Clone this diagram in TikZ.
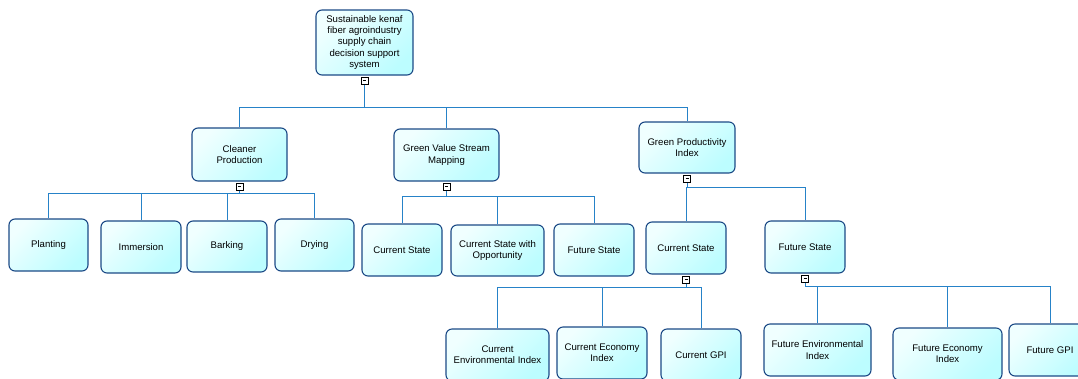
\documentclass[tikz,border=0pt]{standalone}
\usepackage{fontspec}
\setsansfont{Liberation Sans}
\definecolor{boxline}{RGB}{28,74,134}
\definecolor{linkline}{RGB}{38,130,200}
\definecolor{boxtop}{RGB}{240,255,255}
\definecolor{boxbot}{RGB}{188,253,255}
\begin{document}
\begin{tikzpicture}[x=1pt,y=-1pt,
    item/.style ={rounded corners=6pt, draw=boxline, line width=1.1pt,
      top color=boxtop, bottom color=boxbot, shading angle=45,
      align=center, inner sep=1pt,
      font=\sffamily\fontsize{9.6}{11.3}\selectfont},
    fold/.style ={draw=black, fill=white, line width=0.7pt, minimum size=7pt,
      inner sep=0pt, below=1.5pt,
      path picture={\draw[line width=0.9pt] ([xshift=2pt]path picture bounding box.west)
        -- ([xshift=-2pt]path picture bounding box.east);}},
    link/.style ={draw=linkline, line width=0.9pt}]
   \clip (0,0) rectangle (1078,378);
   \node[item, minimum width=97pt, minimum height=65pt] (root) at (364.5,42.5)
     {Sustainable kenaf\\fiber agroindustry\\supply chain\\decision support\\system};
   \node[item, minimum width=95pt, minimum height=53pt] (cp) at (239.5,154.5) {Cleaner\\Production};
   \node[item, minimum width=105pt, minimum height=52pt] (gvsm) at (446.5,155) {Green Value Stream\\Mapping};
   \node[item, minimum width=96pt, minimum height=51pt] (gpi) at (687,147.5) {Green Productivity\\Index};
   \node[item, minimum width=79pt, minimum height=52pt] (plant) at (48.5,245) {Planting};
   \node[item, minimum width=80pt, minimum height=52pt] (immer) at (141,247) {Immersion};
   \node[item, minimum width=80pt, minimum height=51pt] (bark) at (227,246.5) {Barking};
   \node[item, minimum width=79pt, minimum height=52pt] (dry) at (314.5,245) {Drying};
   \node[item, minimum width=80pt, minimum height=52pt] (gvcs) at (402,250) {Current State};
   \node[item, minimum width=93pt, minimum height=51pt] (gvcso) at (497.5,250.5) {Current State with\\Opportunity};
   \node[item, minimum width=80pt, minimum height=52pt] (gvfs) at (594,250) {Future State};
   \node[item, minimum width=80pt, minimum height=52pt] (gpcs) at (686,248) {Current State};
   \node[item, minimum width=80pt, minimum height=52pt] (gpfs) at (805,247) {Future State};
   \node[item, minimum width=103pt, minimum height=52pt] (cenv) at (497.5,355) {Current\\Environmental Index};
   \node[item, minimum width=90pt, minimum height=52pt] (cecon) at (602,353) {Current Economy\\Index};
   \node[item, minimum width=80pt, minimum height=52pt] (cgpi) at (701,355) {Current GPI};
   \node[item, minimum width=107pt, minimum height=52pt] (fenv) at (817.5,350) {Future Environmental\\Index};
   \node[item, minimum width=109pt, minimum height=52pt] (fecon) at (947.5,354) {Future Economy\\Index};
   \node[item, minimum width=82pt, minimum height=52pt] (fgpi) at (1050,350) {Future GPI};
   \node[fold] (rootm) at (root.south) {};
   \node[fold] (cpm) at (cp.south) {};
   \node[fold] (gvsmm) at (gvsm.south) {};
   \node[fold] (gpim) at (gpi.south) {};
   \node[fold] (gpcsm) at (gpcs.south) {};
   \node[fold] (gpfsm) at (gpfs.south) {};
   \coordinate (rootbus) at (rootm.south |- 0,107);
   \coordinate (cpbus) at (cpm.south |- 0,193);
   \coordinate (gvsmbus) at (gvsmm.south |- 0,196);
   \coordinate (gpibus) at (gpim.south |- 0,187);
   \coordinate (gpcsbus) at (gpcsm.south |- 0,287);
   \coordinate (gpfsbus) at (gpfsm.south |- 0,286);
   \draw[link] (rootm) -- (rootbus) -| (cp);
   \draw[link] (rootbus) -| (gvsm);
   \draw[link] (rootbus) -| (gpi);
   \draw[link] (cpm) -- (cpbus) -| (plant);
   \draw[link] (cpbus) -| (immer);
   \draw[link] (cpbus) -| (bark);
   \draw[link] (cpbus) -| (dry);
   \draw[link] (gvsmm) -- (gvsmbus) -| (gvcs);
   \draw[link] (gvsmbus) -| (gvcso);
   \draw[link] (gvsmbus) -| (gvfs);
   \draw[link] (gpim) -- (gpibus) -| (gpcs);
   \draw[link] (gpibus) -| (gpfs);
   \draw[link] (gpcsm) -- (gpcsbus) -| (cenv);
   \draw[link] (gpcsbus) -| (cecon);
   \draw[link] (gpcsbus) -| (cgpi);
   \draw[link] (gpfsm) -- (gpfsbus) -| (fenv);
   \draw[link] (gpfsbus) -| (fecon);
   \draw[link] (gpfsbus) -| (fgpi);
 \end{tikzpicture}
\end{document}
